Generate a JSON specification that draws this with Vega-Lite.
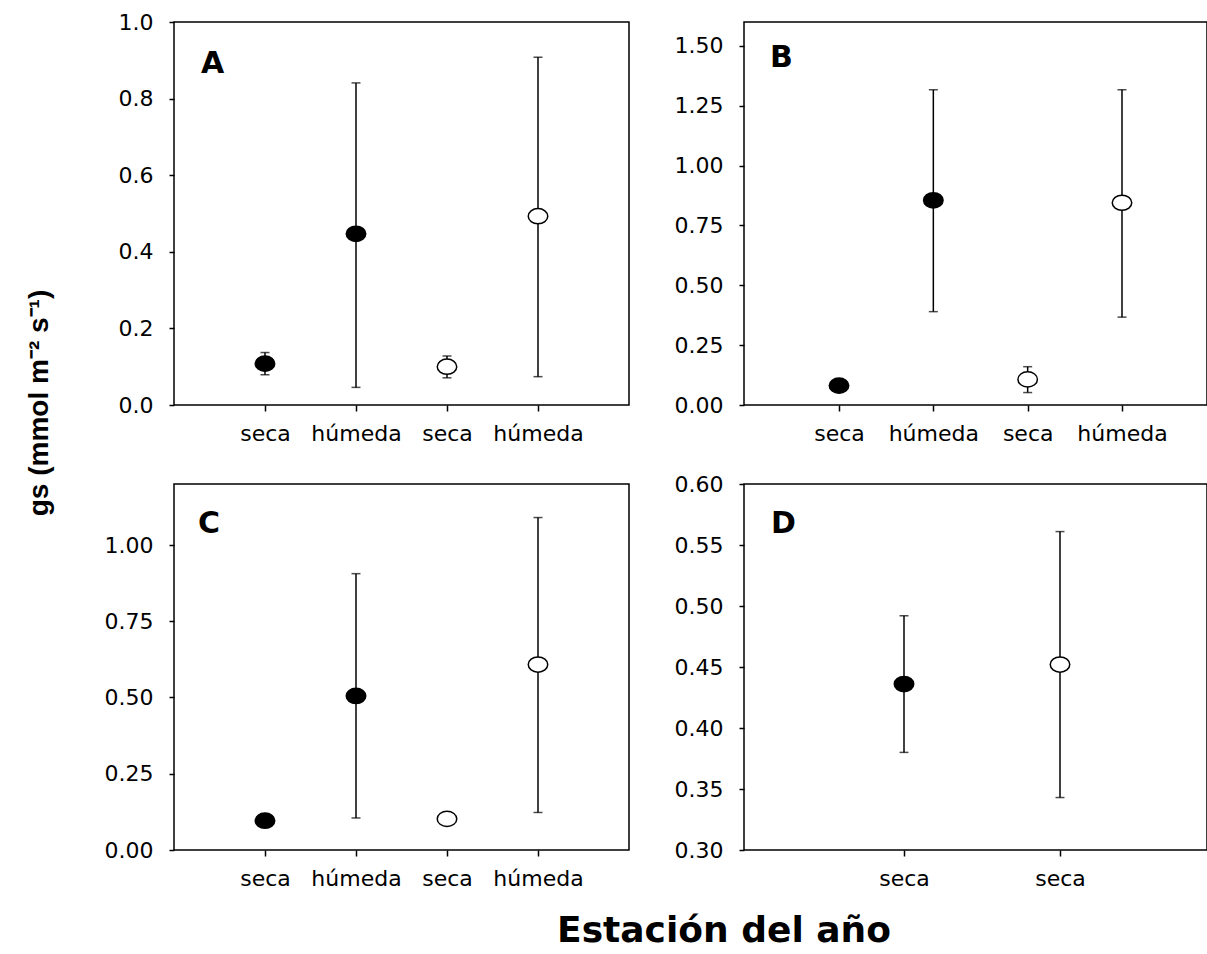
{
  "$schema": "https://vega.github.io/schema/vega-lite/v6.json",
  "background": "white",
  "padding": {"left": 26, "top": 10, "right": 0, "bottom": 0},
  "config": {
    "view": {"stroke": "black", "strokeWidth": 1.5},
    "axis": {
      "domain": false,
      "grid": false,
      "ticks": true,
      "tickColor": "black",
      "tickWidth": 1.5,
      "tickSize": 5,
      "labelColor": "black",
      "labelFont": "DejaVu Sans",
      "labelFontSize": 22,
      "title": null
    },
    "axisY": {"labelPadding": 16},
    "axisX": {"labelPadding": 12, "labelAngle": 0, "tickSize": 6}
  },
  "datasets": {
    "valores": [
      {"panel": "A", "clave": "1 seca", "tipo": "lleno", "media": 0.108, "inf": 0.079, "sup": 0.137},
      {"panel": "A", "clave": "1 húmeda", "tipo": "lleno", "media": 0.447, "inf": 0.046, "sup": 0.841},
      {"panel": "A", "clave": "2 seca", "tipo": "vacío", "media": 0.100, "inf": 0.071, "sup": 0.128},
      {"panel": "A", "clave": "2 húmeda", "tipo": "vacío", "media": 0.493, "inf": 0.074, "sup": 0.908},
      {"panel": "B", "clave": "1 seca", "tipo": "lleno", "media": 0.081, "inf": 0.072, "sup": 0.090},
      {"panel": "B", "clave": "1 húmeda", "tipo": "lleno", "media": 0.855, "inf": 0.390, "sup": 1.317},
      {"panel": "B", "clave": "2 seca", "tipo": "vacío", "media": 0.107, "inf": 0.052, "sup": 0.160},
      {"panel": "B", "clave": "2 húmeda", "tipo": "vacío", "media": 0.845, "inf": 0.367, "sup": 1.317},
      {"panel": "C", "clave": "1 seca", "tipo": "lleno", "media": 0.096, "inf": 0.088, "sup": 0.104},
      {"panel": "C", "clave": "1 húmeda", "tipo": "lleno", "media": 0.505, "inf": 0.105, "sup": 0.906},
      {"panel": "C", "clave": "2 seca", "tipo": "vacío", "media": 0.102, "inf": 0.094, "sup": 0.110},
      {"panel": "C", "clave": "2 húmeda", "tipo": "vacío", "media": 0.608, "inf": 0.123, "sup": 1.090},
      {"panel": "D", "clave": "1 seca", "tipo": "lleno", "media": 0.436, "inf": 0.380, "sup": 0.492},
      {"panel": "D", "clave": "2 seca", "tipo": "vacío", "media": 0.452, "inf": 0.343, "sup": 0.561}
    ]
  },
  "title": {
    "text": "Estación del año",
    "orient": "bottom",
    "anchor": "middle",
    "dx": 107,
    "offset": 24,
    "baseline": "top",
    "font": "DejaVu Sans",
    "fontSize": 36,
    "fontWeight": "bold",
    "color": "black"
  },
  "vconcat": [
    {
      "title": {
        "text": "gs (mmol m⁻² s⁻¹)",
        "orient": "left",
        "anchor": "middle",
        "offset": 49,
        "dx": 47,
        "font": "Liberation Sans",
        "fontSize": 28,
        "fontWeight": "bold",
        "color": "black"
      },
      "columns": 2,
      "bounds": "flush",
      "spacing": {"row": 79, "column": 115},
      "concat": [
        {
          "width": 455,
          "height": 383,
          "title": {"text": "A", "anchor": "start", "frame": "group", "dx": 27, "offset": -92, "baseline": "alphabetic", "font": "DejaVu Sans", "fontSize": 30, "fontWeight": "bold", "color": "black"},
          "data": {"name": "valores"},
          "transform": [{"filter": "datum.panel === 'A'"}],
          "encoding": {
            "x": {"field": "clave", "type": "nominal", "sort": ["1 seca", "1 húmeda", "2 seca", "2 húmeda"], "scale": {"type": "point", "padding": 1}, "axis": {"labelExpr": "split(datum.label, ' ')[1]"}}
          },
          "layer": [
            {"mark": {"type": "rule", "color": "black", "strokeWidth": 1.5}, "encoding": {"y": {"field": "inf", "type": "quantitative", "scale": {"domain": [0, 1]}, "axis": {"values": [0, 0.2, 0.4, 0.6, 0.8, 1.0], "format": ".1f"}}, "y2": {"field": "sup"}}},
            {"mark": {"type": "tick", "color": "black", "size": 9, "thickness": 1.5}, "encoding": {"y": {"field": "inf", "type": "quantitative"}}},
            {"mark": {"type": "tick", "color": "black", "size": 9, "thickness": 1.5}, "encoding": {"y": {"field": "sup", "type": "quantitative"}}},
            {"mark": {"type": "point", "shape": "M -1 0 A 1 0.78 0 1 1 1 0 A 1 0.78 0 1 1 -1 0 Z", "size": 380, "stroke": "black", "strokeWidth": 1.5, "opacity": 1, "filled": true}, "encoding": {"y": {"field": "media", "type": "quantitative"}, "fill": {"field": "tipo", "type": "nominal", "scale": {"domain": ["lleno", "vacío"], "range": ["black", "white"]}, "legend": null}}}
          ]
        },
        {
          "width": 463,
          "height": 383,
          "title": {"text": "B", "anchor": "start", "frame": "group", "dx": 26, "offset": -75, "baseline": "alphabetic", "font": "DejaVu Sans", "fontSize": 30, "fontWeight": "bold", "color": "black"},
          "data": {"name": "valores"},
          "transform": [{"filter": "datum.panel === 'B'"}],
          "encoding": {
            "x": {"field": "clave", "type": "nominal", "sort": ["1 seca", "1 húmeda", "2 seca", "2 húmeda"], "scale": {"type": "point", "range": [95, 378], "padding": 0}, "axis": {"labelExpr": "split(datum.label, ' ')[1]"}}
          },
          "layer": [
            {"mark": {"type": "rule", "color": "black", "strokeWidth": 1.5}, "encoding": {"y": {"field": "inf", "type": "quantitative", "scale": {"domain": [0, 1.5]}, "axis": {"values": [0, 0.25, 0.5, 0.75, 1.0, 1.25, 1.5], "format": ".2f"}}, "y2": {"field": "sup"}}},
            {"mark": {"type": "tick", "color": "black", "size": 9, "thickness": 1.5}, "encoding": {"y": {"field": "inf", "type": "quantitative"}}},
            {"mark": {"type": "tick", "color": "black", "size": 9, "thickness": 1.5}, "encoding": {"y": {"field": "sup", "type": "quantitative"}}},
            {"mark": {"type": "point", "shape": "M -1 0 A 1 0.78 0 1 1 1 0 A 1 0.78 0 1 1 -1 0 Z", "size": 380, "stroke": "black", "strokeWidth": 1.5, "opacity": 1, "filled": true}, "encoding": {"y": {"field": "media", "type": "quantitative"}, "fill": {"field": "tipo", "type": "nominal", "scale": {"domain": ["lleno", "vacío"], "range": ["black", "white"]}, "legend": null}}}
          ]
        },
        {
          "width": 455,
          "height": 366,
          "title": {"text": "C", "anchor": "start", "frame": "group", "dx": 24, "offset": -79, "baseline": "alphabetic", "font": "DejaVu Sans", "fontSize": 30, "fontWeight": "bold", "color": "black"},
          "data": {"name": "valores"},
          "transform": [{"filter": "datum.panel === 'C'"}],
          "encoding": {
            "x": {"field": "clave", "type": "nominal", "sort": ["1 seca", "1 húmeda", "2 seca", "2 húmeda"], "scale": {"type": "point", "padding": 1}, "axis": {"labelExpr": "split(datum.label, ' ')[1]"}}
          },
          "layer": [
            {"mark": {"type": "rule", "color": "black", "strokeWidth": 1.5}, "encoding": {"y": {"field": "inf", "type": "quantitative", "scale": {"domain": [0, 1.2]}, "axis": {"values": [0, 0.25, 0.5, 0.75, 1.0], "format": ".2f"}}, "y2": {"field": "sup"}}},
            {"mark": {"type": "tick", "color": "black", "size": 9, "thickness": 1.5}, "encoding": {"y": {"field": "inf", "type": "quantitative"}}},
            {"mark": {"type": "tick", "color": "black", "size": 9, "thickness": 1.5}, "encoding": {"y": {"field": "sup", "type": "quantitative"}}},
            {"mark": {"type": "point", "shape": "M -1 0 A 1 0.78 0 1 1 1 0 A 1 0.78 0 1 1 -1 0 Z", "size": 380, "stroke": "black", "strokeWidth": 1.5, "opacity": 1, "filled": true}, "encoding": {"y": {"field": "media", "type": "quantitative"}, "fill": {"field": "tipo", "type": "nominal", "scale": {"domain": ["lleno", "vacío"], "range": ["black", "white"]}, "legend": null}}}
          ]
        },
        {
          "width": 463,
          "height": 366,
          "title": {"text": "D", "anchor": "start", "frame": "group", "dx": 27, "offset": -90, "baseline": "alphabetic", "font": "DejaVu Sans", "fontSize": 30, "fontWeight": "bold", "color": "black"},
          "data": {"name": "valores"},
          "transform": [{"filter": "datum.panel === 'D'"}],
          "encoding": {
            "x": {"field": "clave", "type": "nominal", "sort": ["1 seca", "2 seca"], "scale": {"type": "point", "range": [160, 316], "padding": 0}, "axis": {"labelExpr": "split(datum.label, ' ')[1]"}}
          },
          "layer": [
            {"mark": {"type": "rule", "color": "black", "strokeWidth": 1.5}, "encoding": {"y": {"field": "inf", "type": "quantitative", "scale": {"domain": [0.3, 0.6], "zero": false}, "axis": {"values": [0.3, 0.35, 0.4, 0.45, 0.5, 0.55, 0.6], "format": ".2f"}}, "y2": {"field": "sup"}}},
            {"mark": {"type": "tick", "color": "black", "size": 9, "thickness": 1.5}, "encoding": {"y": {"field": "inf", "type": "quantitative"}}},
            {"mark": {"type": "tick", "color": "black", "size": 9, "thickness": 1.5}, "encoding": {"y": {"field": "sup", "type": "quantitative"}}},
            {"mark": {"type": "point", "shape": "M -1 0 A 1 0.78 0 1 1 1 0 A 1 0.78 0 1 1 -1 0 Z", "size": 380, "stroke": "black", "strokeWidth": 1.5, "opacity": 1, "filled": true}, "encoding": {"y": {"field": "media", "type": "quantitative"}, "fill": {"field": "tipo", "type": "nominal", "scale": {"domain": ["lleno", "vacío"], "range": ["black", "white"]}, "legend": null}}}
          ]
        }
      ]
    }
  ]
}
